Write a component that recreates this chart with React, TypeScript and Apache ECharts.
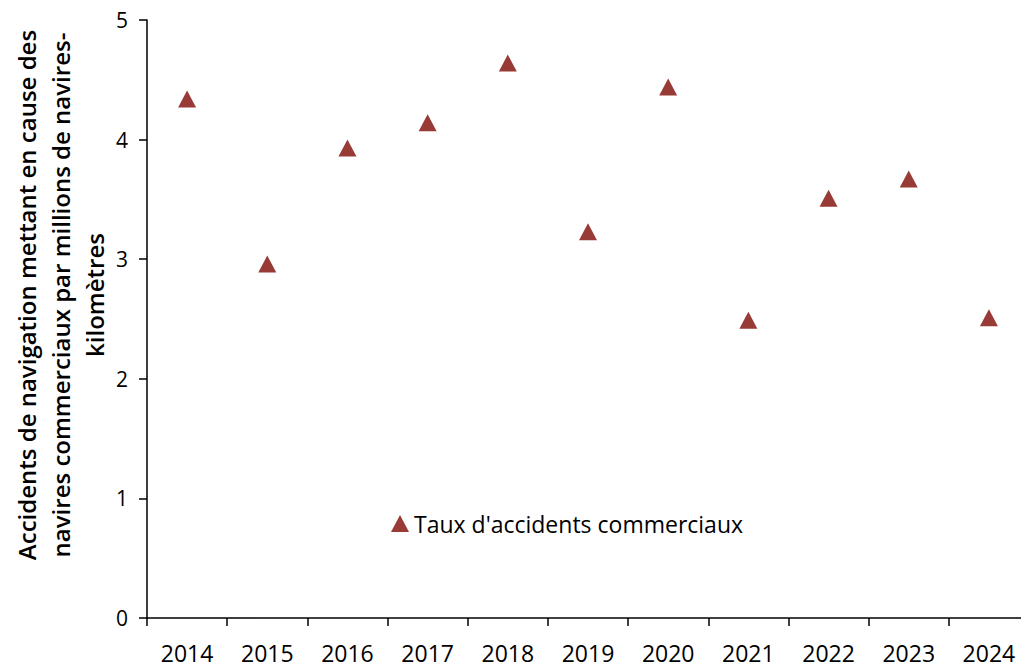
import React, { useEffect, useRef } from "react";
import * as echarts from "echarts";

const years = ["2014", "2015", "2016", "2017", "2018", "2019", "2020", "2021", "2022", "2023", "2024"];
const rates = [4.34, 2.96, 3.93, 4.14, 4.64, 3.23, 4.44, 2.49, 3.51, 3.67, 2.51];
const seriesName = "Taux d'accidents commerciaux";
const yTitle = "Accidents de navigation mettant en cause des\nnavires commerciaux par millions de navires-\nkilomètres";

const FONT = "'Open Sans', 'Noto Sans', sans-serif";

export default function App() {
  const ref = useRef<HTMLDivElement>(null);
  useEffect(() => {
    if (!ref.current) return;
    const chart = echarts.init(ref.current, undefined, { renderer: "svg" });
    chart.setOption({
      animation: false,
      backgroundColor: "#ffffff",
      textStyle: { fontFamily: FONT },
      grid: { left: 147, top: 20, width: 882, height: 598, containLabel: false, outerBoundsMode: "none" },
      legend: {
        left: 386,
        top: 507,
        itemWidth: 18,
        itemHeight: 17,
        itemGap: 0,
        data: [{ name: seriesName, icon: "triangle" }],
        textStyle: { fontFamily: FONT, fontSize: 23, color: "#000" },
      },
      xAxis: {
        type: "category",
        data: years,
        boundaryGap: true,
        axisLine: { lineStyle: { color: "#000", width: 1.5 } },
        axisTick: { show: true, length: 8, lineStyle: { color: "#000", width: 1.5 } },
        axisLabel: { color: "#000", fontSize: 23, margin: 23, fontFamily: FONT },
        splitLine: { show: false },
      },
      yAxis: {
        type: "value",
        min: 0,
        max: 5,
        interval: 1,
        axisLine: { show: true, lineStyle: { color: "#000", width: 1.5 } },
        axisTick: { show: true, length: 8, lineStyle: { color: "#000", width: 1.5 } },
        axisLabel: { color: "#000", fontSize: 21, margin: 19, fontFamily: FONT },
        splitLine: { show: false },
      },
      graphic: [
        {
          type: "text",
          x: 60,
          y: 295,
          rotation: Math.PI / 2,
          style: {
            text: yTitle,
            fontFamily: FONT,
            fontSize: 24,
            fontWeight: 600,
            lineHeight: 34,
            fill: "#000",
            align: "center",
            verticalAlign: "middle",
          },
        },
      ],
      series: [
        {
          name: seriesName,
          type: "scatter",
          data: rates,
          symbol: "triangle",
          symbolSize: [18, 17],
          itemStyle: { color: "#983A36", opacity: 1 },
        },
      ],
    });
    return () => chart.dispose();
  }, []);
  return <div ref={ref} style={{ width: 1021, height: 667, position: "absolute", left: 0, top: 0 }} />;
}
